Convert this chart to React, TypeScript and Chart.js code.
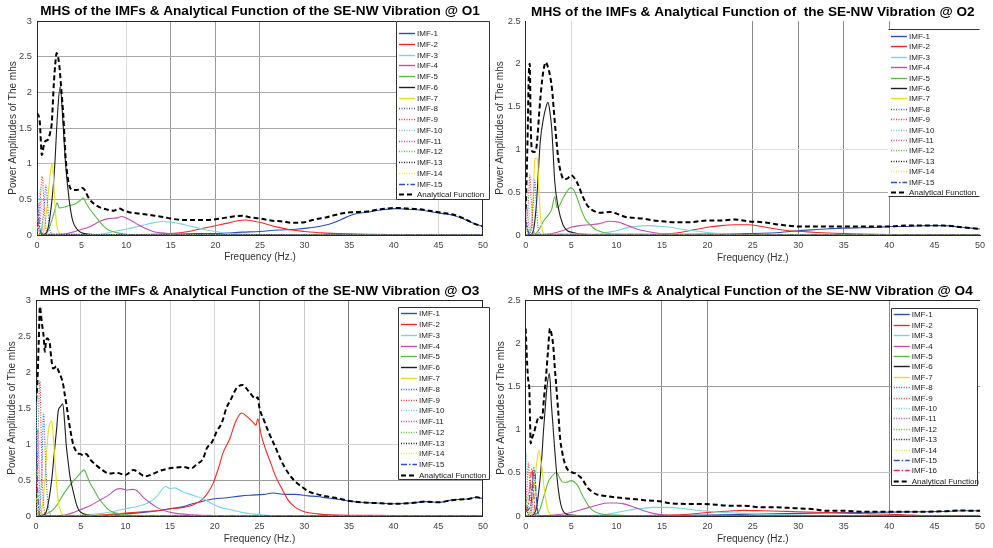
import React, { useEffect, useRef } from 'react';
import { Chart, registerables } from 'chart.js';

Chart.register(...registerables);

type Pt = [number, number];

const FONT = "'Liberation Sans', Arial, Helvetica, sans-serif";

// ---------- text ----------
const PANEL_TITLES = [
  'MHS of the IMFs & Analytical Function of the SE-NW Vibration @ O1',
  'MHS of the IMFs & Analytical Function of  the SE-NW Vibration @ O2',
  'MHS of the IMFs & Analytical Function of the SE-NW Vibration @ O3',
  'MHS of the IMFs & Analytical Function of the SE-NW Vibration @ O4',
];
const X_LABEL = 'Frequency (Hz.)';
const Y_LABEL = 'Power Amplitudes of The mhs';
const X_MIN = 0;
const X_MAX = 50;
const X_STEP = 5;
const Y_STEP = 0.5;
const Y_MAX = [3, 2.5, 3, 2.5];
const LABELS_15 = ['IMF-1', 'IMF-2', 'IMF-3', 'IMF-4', 'IMF-5', 'IMF-6', 'IMF-7', 'IMF-8', 'IMF-9', 'IMF-10', 'IMF-11', 'IMF-12', 'IMF-13', 'IMF-14', 'IMF-15', 'Analytical Function'];
const LABELS_16 = ['IMF-1', 'IMF-2', 'IMF-3', 'IMF-4', 'IMF-5', 'IMF-6', 'IMF-7', 'IMF-8', 'IMF-9', 'IMF-10', 'IMF-11', 'IMF-12', 'IMF-13', 'IMF-14', 'IMF-15', 'IMF-16', 'Analytical Function'];

// ---------- O1 data [frequency, amplitude] ----------
const O1_IMF1: Pt[] = [[0,0],[10,0.003],[15,0.01],[18,0.02],[20,0.02],[23,0.04],[25,0.05],[27,0.07],[29,0.08],[30.5,0.1],[32,0.13],[33.4,0.18],[34.5,0.24],[35.5,0.29],[37,0.32],[38.5,0.35],[40.3,0.37],[41.5,0.36],[42.9,0.35],[44,0.33],[45.5,0.3],[46.5,0.28],[47.7,0.23],[49,0.16],[50,0.12]];
const O1_IMF2: Pt[] = [[0,0],[10,0.003],[13,0.01],[15,0.02],[17,0.05],[18.5,0.09],[20,0.13],[21.5,0.17],[22.5,0.2],[23.3,0.21],[24.5,0.19],[25.5,0.16],[27,0.11],[28.5,0.07],[30,0.05],[32,0.03],[34,0.02],[37,0.01],[40,0.005],[44,0.003],[50,0]];
const O1_IMF3: Pt[] = [[0,0],[5,0.003],[7,0.01],[8,0.03],[9,0.06],[10,0.08],[11,0.11],[12,0.14],[13,0.17],[14,0.19],[15,0.18],[16,0.16],[17,0.13],[18,0.1],[19,0.07],[20,0.05],[21,0.03],[23,0.015],[25,0.005],[28,0.002],[50,0]];
const O1_IMF4: Pt[] = [[0,0],[2,0.003],[3,0.01],[4,0.04],[5,0.08],[6,0.12],[7,0.19],[8,0.23],[9,0.24],[9.5,0.26],[10.3,0.22],[11,0.17],[12,0.1],[13,0.05],[14,0.03],[16,0.01],[20,0.003],[50,0]];
const O1_IMF5: Pt[] = [[0,0],[0.8,0.01],[1.2,0.05],[1.6,0.18],[2,0.35],[2.25,0.45],[2.5,0.38],[3,0.39],[3.5,0.41],[4.2,0.43],[4.8,0.48],[5.2,0.52],[5.5,0.45],[6,0.35],[6.5,0.27],[7,0.19],[7.5,0.12],[8,0.07],[9,0.03],[10,0.01],[12,0.003],[50,0]];
const O1_IMF6: Pt[] = [[0,0],[0.8,0.01],[1.2,0.08],[1.5,0.3],[1.8,0.65],[2,1],[2.3,1.7],[2.6,2.08],[2.9,1.6],[3.2,1],[3.6,0.5],[4,0.2],[4.5,0.08],[5,0.03],[6,0.01],[8,0],[50,0]];
const O1_IMF7: Pt[] = [[0,0],[0.6,0.02],[0.9,0.15],[1.2,0.5],[1.5,0.88],[1.7,1],[1.85,0.8],[2,0.45],[2.2,0.15],[2.5,0.03],[3,0.005],[50,0]];
const O1_IMF8: Pt[] = [[0,0],[0.5,0.05],[0.8,0.4],[1,0.7],[1.15,0.5],[1.4,0.1],[1.8,0.01],[50,0]];
const O1_IMF9: Pt[] = [[0,0],[0.3,0.3],[0.5,0.75],[0.6,0.82],[0.75,0.5],[1,0.1],[1.3,0.01],[50,0]];
const O1_IMF10: Pt[] = [[0,0.05],[0.2,0.45],[0.35,0.65],[0.5,0.4],[0.7,0.08],[1,0.01],[50,0]];
const O1_IMF11: Pt[] = [[0,0.1],[0.15,0.38],[0.25,0.45],[0.4,0.2],[0.6,0.03],[1,0],[50,0]];
const O1_IMF12: Pt[] = [[0,0.15],[0.1,0.28],[0.2,0.2],[0.4,0.04],[0.7,0],[50,0]];
const O1_IMF13: Pt[] = [[0,0.12],[0.08,0.18],[0.2,0.08],[0.4,0.01],[50,0]];
const O1_IMF14: Pt[] = [[0,0.1],[0.1,0.12],[0.25,0.03],[0.5,0],[50,0]];
const O1_IMF15: Pt[] = [[0,0.3],[0.1,0.35],[0.25,0.15],[0.5,0.02],[1,0],[50,0]];
const O1_AF: Pt[] = [[0,1.71],[0.3,1.6],[0.55,1.12],[0.75,1.25],[0.9,1.31],[1.25,1.34],[1.5,1.45],[1.65,1.56],[1.9,2.15],[2.05,2.4],[2.2,2.55],[2.35,2.5],[2.5,2.38],[2.75,2],[2.95,1.68],[3.2,1.1],[3.45,0.8],[3.66,0.68],[4,0.63],[4.4,0.63],[4.8,0.64],[5.1,0.66],[5.4,0.62],[5.7,0.54],[6.1,0.47],[6.6,0.42],[7.2,0.38],[8.07,0.35],[8.6,0.34],[9.2,0.37],[9.8,0.34],[10.3,0.32],[11.4,0.3],[12.1,0.29],[13.2,0.27],[14.3,0.25],[15,0.23],[16.5,0.21],[18.7,0.21],[20,0.22],[21,0.24],[22,0.26],[23.1,0.27],[23.8,0.25],[25,0.23],[26.4,0.2],[27.5,0.19],[28.6,0.17],[30,0.18],[31.2,0.22],[32.5,0.25],[33.4,0.28],[34.5,0.31],[35.5,0.32],[37,0.33],[38.5,0.36],[40.3,0.38],[41.5,0.37],[42.9,0.36],[44,0.34],[45.5,0.31],[46.5,0.29],[47.7,0.24],[49,0.16],[50,0.12]];

// ---------- O2 data ----------
const O2_IMF1: Pt[] = [[0,0],[15,0.003],[20,0.01],[23,0.015],[26,0.02],[28,0.03],[30,0.05],[31.5,0.06],[33,0.07],[35,0.08],[37,0.085],[39,0.09],[40,0.1],[42,0.1],[44,0.11],[46,0.11],[48,0.09],[50,0.07]];
const O2_IMF2: Pt[] = [[0,0],[12,0.003],[15,0.01],[17,0.03],[18.5,0.06],[20,0.09],[21.5,0.11],[23,0.12],[24.5,0.12],[26,0.1],[27.5,0.07],[29,0.05],[30.5,0.04],[32,0.03],[34,0.02],[37,0.01],[40,0.005],[41,0.002],[50,0]];
const O2_IMF3: Pt[] = [[0,0],[6,0.003],[8,0.01],[9,0.03],[10,0.05],[11,0.08],[12,0.1],[13.5,0.11],[15,0.1],[16,0.09],[17,0.07],[18.5,0.05],[20,0.03],[22,0.015],[25,0.005],[50,0]];
const O2_IMF4: Pt[] = [[0,0],[2,0.003],[3,0.02],[4,0.05],[5,0.09],[6,0.11],[7,0.12],[8,0.13],[9.2,0.16],[10.2,0.15],[11,0.12],[12,0.08],[13,0.05],[14,0.03],[15,0.015],[17,0.005],[50,0]];
const O2_IMF5: Pt[] = [[0,0],[1,0.01],[1.5,0.07],[1.95,0.16],[2.4,0.22],[2.86,0.3],[3.2,0.45],[3.45,0.32],[3.8,0.36],[4.1,0.43],[4.5,0.5],[4.9,0.55],[5.2,0.54],[5.6,0.45],[5.9,0.36],[6.2,0.27],[6.6,0.18],[7.1,0.12],[7.6,0.07],[8.2,0.04],[9,0.02],[10,0.01],[50,0]];
const O2_IMF6: Pt[] = [[0,0],[0.6,0.005],[0.9,0.08],[1.2,0.39],[1.4,0.75],[1.6,1.09],[1.95,1.36],[2.25,1.5],[2.45,1.55],[2.65,1.45],[2.86,1.25],[3.05,0.9],[3.2,0.62],[3.6,0.31],[4.1,0.12],[4.6,0.05],[5.2,0.03],[6,0.01],[8,0.002],[50,0]];
const O2_IMF7: Pt[] = [[0,0],[0.5,0.05],[0.7,0.2],[0.85,0.5],[1,0.88],[1.15,0.9],[1.3,0.88],[1.45,0.55],[1.6,0.25],[1.8,0.08],[2.1,0.01],[50,0]];
const O2_IMF8: Pt[] = [[0,0],[0.6,0.05],[0.85,0.4],[1,0.64],[1.15,0.4],[1.4,0.05],[1.8,0],[50,0]];
const O2_IMF9: Pt[] = [[0,0.05],[0.3,0.4],[0.45,0.7],[0.6,0.45],[0.8,0.1],[1.1,0.01],[50,0]];
const O2_IMF10: Pt[] = [[0,0.2],[0.15,0.45],[0.25,0.52],[0.4,0.25],[0.6,0.05],[0.9,0],[50,0]];
const O2_IMF11: Pt[] = [[0,0.1],[0.1,0.3],[0.2,0.28],[0.35,0.1],[0.6,0.01],[50,0]];
const O2_IMF12: Pt[] = [[0,0.08],[0.1,0.15],[0.25,0.05],[0.5,0],[50,0]];
const O2_IMF13: Pt[] = [[0,0.05],[0.08,0.12],[0.2,0.03],[0.4,0],[50,0]];
const O2_IMF14: Pt[] = [[0,0.05],[0.1,0.08],[0.25,0.02],[0.5,0],[50,0]];
const O2_IMF15: Pt[] = [[0,0.1],[0.1,0.15],[0.25,0.05],[0.5,0],[50,0]];
const O2_AF: Pt[] = [[0,0.3],[0.2,1.1],[0.35,1.9],[0.45,2],[0.55,1.3],[0.7,0.98],[0.9,0.97],[1.1,0.98],[1.3,1.15],[1.5,1.45],[1.8,1.8],[2,1.95],[2.2,2.02],[2.45,1.96],[2.7,1.85],[2.9,1.7],[3.1,1.45],[3.3,1.2],[3.6,0.88],[3.9,0.72],[4.2,0.65],[4.6,0.66],[5,0.7],[5.4,0.66],[5.8,0.58],[6.2,0.47],[6.7,0.36],[7.2,0.3],[8.2,0.26],[9.3,0.27],[10,0.25],[11,0.21],[12,0.2],[13,0.19],[14,0.17],[15,0.16],[16.5,0.15],[18,0.15],[20,0.17],[21.5,0.17],[23,0.18],[24.5,0.16],[26,0.15],[28,0.12],[30,0.1],[32,0.1],[34,0.1],[37,0.1],[40,0.1],[42,0.11],[44,0.11],[46,0.11],[48,0.09],[50,0.07]];

// ---------- O3 data ----------
const O3_IMF1: Pt[] = [[0,0],[5,0.005],[8,0.01],[10,0.03],[12,0.05],[14,0.08],[15,0.1],[16.5,0.13],[17.5,0.17],[18.5,0.2],[20,0.24],[21,0.25],[23,0.28],[24.2,0.29],[25.5,0.3],[26.5,0.32],[27.9,0.3],[29,0.3],[30.5,0.28],[31.5,0.27],[32.6,0.25],[34,0.23],[35,0.21],[36.3,0.19],[38,0.18],[40,0.17],[42,0.18],[43.6,0.2],[45,0.19],[46.5,0.22],[47.3,0.23],[48.5,0.24],[49.3,0.26],[50,0.24]];
const O3_IMF2: Pt[] = [[0,0],[5,0.005],[8,0.02],[10,0.04],[12,0.06],[14,0.08],[15,0.1],[16.5,0.12],[17.5,0.15],[18.5,0.22],[19.1,0.3],[19.8,0.45],[20.5,0.7],[20.9,0.87],[21.7,1.08],[22.3,1.3],[23,1.43],[23.6,1.38],[24.3,1.3],[24.6,1.26],[24.8,1.35],[25.2,1.12],[25.7,0.92],[26.3,0.72],[26.8,0.55],[27.5,0.38],[28.2,0.22],[29,0.12],[30,0.06],[31.5,0.03],[33,0.015],[36,0.01],[40,0.005],[43,0.003],[50,0]];
const O3_IMF3: Pt[] = [[0,0],[3,0.005],[5,0.01],[7,0.03],[8.5,0.06],[10,0.1],[11.5,0.14],[12.5,0.18],[13.5,0.27],[14.5,0.41],[15,0.38],[15.5,0.39],[16.5,0.33],[17.5,0.29],[18.7,0.24],[19.7,0.17],[20.6,0.12],[22,0.08],[23,0.05],[24.2,0.03],[26,0.01],[28,0.005],[50,0]];
const O3_IMF4: Pt[] = [[0,0],[2,0.005],[3,0.01],[4,0.04],[5,0.09],[6,0.14],[7,0.21],[8,0.28],[9,0.37],[9.5,0.38],[10.1,0.36],[10.8,0.37],[11.3,0.35],[12,0.26],[12.8,0.18],[13.5,0.12],[14.5,0.07],[15.5,0.04],[17,0.02],[19,0.01],[22,0.003],[50,0]];
const O3_IMF5: Pt[] = [[0,0],[1,0.02],[1.5,0.05],[2,0.1],[2.5,0.18],[3,0.29],[3.5,0.38],[4,0.46],[4.5,0.53],[5,0.6],[5.38,0.64],[5.7,0.56],[6,0.47],[6.5,0.36],[7,0.25],[7.5,0.17],[8,0.1],[8.5,0.06],[9,0.04],[10,0.015],[12,0.005],[50,0]];
const O3_IMF6: Pt[] = [[0,0],[0.8,0.01],[1.2,0.08],[1.5,0.27],[1.8,0.55],[2,0.82],[2.3,1.2],[2.5,1.47],[2.75,1.52],[3,1.56],[3.2,1.3],[3.4,0.96],[3.6,0.75],[3.8,0.55],[4.05,0.4],[4.3,0.27],[4.55,0.15],[4.8,0.08],[5.3,0.03],[6,0.01],[8,0.003],[50,0]];
const O3_IMF7: Pt[] = [[0,0],[0.5,0.03],[0.8,0.2],[1,0.5],[1.2,0.9],[1.4,1.2],[1.6,1.3],[1.75,1.32],[1.9,1.15],[2.1,0.8],[2.3,0.45],[2.5,0.2],[2.8,0.05],[3.2,0.01],[50,0]];
const O3_IMF8: Pt[] = [[0,0],[0.4,0.1],[0.65,0.6],[0.85,1.43],[1,1],[1.2,0.4],[1.5,0.05],[2,0],[50,0]];
const O3_IMF9: Pt[] = [[0,0.2],[0.2,0.9],[0.35,1.7],[0.45,1.88],[0.55,1.3],[0.7,0.5],[0.9,0.1],[1.2,0],[50,0]];
const O3_IMF10: Pt[] = [[0,0.8],[0.08,1.5],[0.15,1.93],[0.25,1.5],[0.4,0.6],[0.6,0.1],[0.9,0],[50,0]];
const O3_IMF11: Pt[] = [[0,0.3],[0.1,1],[0.2,1.2],[0.3,0.7],[0.5,0.1],[0.8,0],[50,0]];
const O3_IMF12: Pt[] = [[0,0.5],[0.07,0.7],[0.2,0.3],[0.4,0.03],[0.6,0],[50,0]];
const O3_IMF13: Pt[] = [[0,0.2],[0.05,0.3],[0.15,0.1],[0.3,0],[50,0]];
const O3_IMF14: Pt[] = [[0,0.2],[0.05,0.25],[0.15,0.05],[0.3,0],[50,0]];
const O3_IMF15: Pt[] = [[0,0.8],[0.05,1],[0.15,0.5],[0.3,0.1],[0.5,0],[50,0]];
const O3_AF: Pt[] = [[0,1.6],[0.15,1.84],[0.3,2.4],[0.44,2.91],[0.55,2.8],[0.66,2.68],[0.85,2.5],[0.99,2.28],[1.1,2.4],[1.24,2.47],[1.4,2.45],[1.54,2.4],[1.7,2.2],[1.9,2.05],[2.1,2.06],[2.27,2.08],[2.5,2.02],[2.8,1.93],[3,1.85],[3.2,1.7],[3.4,1.55],[3.6,1.38],[3.9,1.15],[4.15,1],[4.4,0.92],[4.7,0.87],[5,0.86],[5.3,0.84],[5.6,0.86],[6.1,0.78],[6.7,0.71],[7.4,0.64],[8.2,0.59],[9,0.6],[10,0.57],[10.9,0.64],[11.5,0.6],[12.2,0.55],[13,0.58],[13.7,0.62],[14.5,0.65],[15.4,0.67],[16.5,0.68],[17.3,0.66],[18,0.72],[18.7,0.8],[19.1,0.94],[19.7,1.03],[20.2,1.17],[20.8,1.3],[21.3,1.5],[21.8,1.62],[22.4,1.77],[23.1,1.82],[23.8,1.73],[24.6,1.63],[24.8,1.65],[25,1.5],[25.5,1.33],[26,1.17],[26.8,0.95],[27.5,0.75],[28.2,0.6],[29,0.48],[29.8,0.4],[30.5,0.34],[31.5,0.3],[32.6,0.27],[34,0.24],[35,0.21],[36.3,0.19],[38,0.18],[40,0.17],[42,0.18],[43.6,0.2],[45,0.19],[46.5,0.22],[47.3,0.23],[48.5,0.24],[49.3,0.26],[50,0.24]];

// ---------- O4 data ----------
const O4_IMF1: Pt[] = [[0,0],[10,0.003],[15,0.005],[20,0.01],[25,0.02],[30,0.03],[35,0.04],[40,0.045],[44,0.05],[46,0.052],[48,0.06],[50,0.06]];
const O4_IMF2: Pt[] = [[0,0],[12,0.003],[15,0.01],[18,0.02],[20,0.04],[22,0.055],[24,0.065],[26,0.06],[28,0.055],[30,0.05],[33,0.04],[36,0.03],[38,0.025],[40,0.02],[42,0.012],[44,0.005],[50,0]];
const O4_IMF3: Pt[] = [[0,0],[6,0.003],[8,0.01],[9,0.02],[10,0.04],[11,0.06],[12,0.08],[13,0.09],[14,0.1],[15.5,0.1],[17,0.09],[18.5,0.07],[20,0.055],[22,0.04],[24,0.03],[26,0.02],[28,0.015],[30,0.01],[33,0.005],[50,0]];
const O4_IMF4: Pt[] = [[0,0],[2,0.003],[3,0.01],[4,0.02],[5,0.04],[6,0.07],[7,0.1],[8,0.13],[9,0.15],[10,0.15],[10.8,0.14],[12,0.1],[13,0.06],[14,0.03],[15,0.015],[17,0.005],[50,0]];
const O4_IMF5: Pt[] = [[0,0],[1,0.01],[1.5,0.06],[1.94,0.21],[2.2,0.3],[2.5,0.4],[2.9,0.46],[3.3,0.5],[3.5,0.49],[3.8,0.43],[4.1,0.39],[4.5,0.39],[5,0.41],[5.3,0.4],[5.8,0.34],[6.1,0.27],[6.5,0.19],[6.9,0.12],[7.3,0.07],[7.8,0.04],[8.5,0.02],[10,0.01],[12,0.003],[50,0]];
const O4_IMF6: Pt[] = [[0,0],[0.8,0.01],[1,0.04],[1.2,0.1],[1.4,0.25],[1.6,0.45],[1.8,0.72],[1.94,0.96],[2.15,1.25],[2.35,1.5],[2.6,1.65],[2.7,1.55],[2.8,1.34],[3,1.05],[3.2,0.76],[3.4,0.5],[3.6,0.3],[3.85,0.14],[4.1,0.06],[4.5,0.02],[5,0.01],[7,0.002],[50,0]];
const O4_IMF7: Pt[] = [[0,0],[0.4,0.01],[0.6,0.06],[0.8,0.2],[1,0.4],[1.2,0.6],[1.45,0.76],[1.65,0.65],[1.8,0.55],[2,0.35],[2.2,0.2],[2.4,0.08],[2.6,0.03],[3,0.005],[50,0]];
const O4_IMF8: Pt[] = [[0,0],[0.5,0.05],[0.75,0.35],[0.9,0.57],[1.05,0.35],[1.3,0.05],[1.6,0],[50,0]];
const O4_IMF9: Pt[] = [[0,0.1],[0.2,0.45],[0.3,0.62],[0.45,0.35],[0.6,0.08],[0.9,0],[50,0]];
const O4_IMF10: Pt[] = [[0,0.4],[0.08,0.72],[0.2,0.4],[0.35,0.08],[0.6,0],[50,0]];
const O4_IMF11: Pt[] = [[0,0.15],[0.4,0.3],[0.55,0.4],[0.7,0.2],[0.9,0.03],[1.2,0],[50,0]];
const O4_IMF12: Pt[] = [[0,0.1],[0.1,0.2],[0.25,0.05],[0.5,0],[50,0]];
const O4_IMF13: Pt[] = [[0,0.08],[0.1,0.12],[0.25,0.02],[0.5,0],[50,0]];
const O4_IMF14: Pt[] = [[0,0.05],[0.1,0.08],[0.25,0.01],[0.5,0],[50,0]];
const O4_IMF15: Pt[] = [[0,0.05],[0.6,0.15],[0.85,0.5],[1,0.52],[1.15,0.25],[1.4,0.02],[1.7,0],[50,0]];
const O4_IMF16: Pt[] = [[0,0.05],[0.4,0.2],[0.6,0.5],[0.7,0.55],[0.85,0.3],[1.1,0.03],[1.4,0],[50,0]];
const O4_AF: Pt[] = [[0,2.17],[0.1,1.9],[0.25,1.6],[0.4,1.46],[0.48,1.1],[0.55,0.84],[0.7,0.9],[0.9,0.96],[1.2,1.08],[1.45,1.15],[1.65,1.14],[1.8,1.13],[2,1.35],[2.2,1.57],[2.45,1.9],[2.67,2.17],[2.85,2.1],[3.04,1.96],[3.2,1.72],[3.4,1.46],[3.6,1.18],[3.77,0.92],[4,0.75],[4.3,0.61],[4.6,0.54],[4.87,0.52],[5.2,0.5],[5.6,0.49],[5.9,0.46],[6.2,0.43],[6.5,0.38],[6.7,0.34],[7.2,0.29],[7.8,0.25],[8.9,0.23],[9.6,0.22],[10.4,0.21],[11.5,0.2],[12.5,0.19],[13.3,0.18],[14.8,0.17],[15.7,0.15],[17.5,0.14],[19.4,0.14],[21,0.13],[22.3,0.12],[24,0.12],[25.9,0.1],[27.5,0.1],[29.6,0.09],[31.5,0.08],[33.3,0.06],[35,0.06],[36.9,0.05],[40,0.05],[42,0.05],[44.2,0.05],[46,0.055],[47.9,0.065],[49,0.06],[50,0.06]];

// ---------- styles ----------
const IMF_COLORS = ['#2c4fb5', '#f02828', '#7dd3df', '#c24db3', '#5bb946', '#1e1e1e', '#e8df1a', '#3a5fc0', '#f03535', '#6fd0dc', '#c04aaf', '#5cbd42', '#202020', '#eee23a', '#2c4fb5', '#ee2a2a'];
const DOT = [1, 1.5];
const DASHDOT = [6, 2, 1.5, 2];
const IMF_DASHES: number[][] = [[], [], [], [], [], [], [], DOT, DOT, DOT, DOT, DOT, DOT, DOT, DASHDOT, DASHDOT];

type PanelCfg = {
  left: number; top: number; width: number; height: number;
  title: string; yMax: number; series: Pt[][]; labels: string[];
  yAxisWidth: number; xAxisHeight: number; padRight: number;
  titlePadTop: number; titlePadBottom: number;
  xTitlePadBottom: number; yTitlePad: number;
  xGrid: Record<string, string>; yGrid: Record<string, string>;
  legend: { left: number; right: number; top: number; bottom: number; firstY: number; spacing: number; sides: 'all' | 'tb' };
  frameTop: boolean; frameRight: boolean;
};

const PANELS: PanelCfg[] = [
  {
    left: 0, top: 0, width: 493, height: 270, title: PANEL_TITLES[0], yMax: Y_MAX[0],
    series: [O1_IMF1, O1_IMF2, O1_IMF3, O1_IMF4, O1_IMF5, O1_IMF6, O1_IMF7, O1_IMF8, O1_IMF9, O1_IMF10, O1_IMF11, O1_IMF12, O1_IMF13, O1_IMF14, O1_IMF15, O1_AF],
    labels: LABELS_15,
    yAxisWidth: 37, xAxisHeight: 35, padRight: 2, titlePadTop: 3.5, titlePadBottom: 1.18,
    xTitlePadBottom: 6.3, yTitlePad: 7.3,
    xGrid: { '10': '#dedede', '15': '#9a9a9a', '20': '#9a9a9a', '25': '#9a9a9a', '45': '#d4d4d4' },
    yGrid: { '0.5': '#a8a8a8', '1': '#b8b8b8', '1.5': '#a8a8a8', '2': '#a8a8a8', '2.5': '#a8a8a8' },
    legend: { left: 396, right: 490, top: 21, bottom: 200, firstY: 33, spacing: 10.75, sides: 'all' },
    frameTop: true, frameRight: true,
  },
  {
    left: 493, top: 0, width: 500, height: 270, title: PANEL_TITLES[1], yMax: Y_MAX[1],
    series: [O2_IMF1, O2_IMF2, O2_IMF3, O2_IMF4, O2_IMF5, O2_IMF6, O2_IMF7, O2_IMF8, O2_IMF9, O2_IMF10, O2_IMF11, O2_IMF12, O2_IMF13, O2_IMF14, O2_IMF15, O2_AF],
    labels: LABELS_15,
    yAxisWidth: 32.7, xAxisHeight: 35, padRight: 13, titlePadTop: 3.8, titlePadBottom: 0.88,
    xTitlePadBottom: 5.7, yTitlePad: 1,
    xGrid: { '5': '#d8d8d8', '25': '#8a8a8a', '30': '#8a8a8a', '35': '#8a8a8a', '40': '#8a8a8a' },
    yGrid: { '0.5': '#a8a8a8', '1': '#e2e2e2' },
    legend: { left: 395, right: 487, top: 29, bottom: 197, firstY: 36, spacing: 10.4, sides: 'tb' },
    frameTop: false, frameRight: false,
  },
  {
    left: 0, top: 273, width: 493, height: 275, title: PANEL_TITLES[2], yMax: Y_MAX[2],
    series: [O3_IMF1, O3_IMF2, O3_IMF3, O3_IMF4, O3_IMF5, O3_IMF6, O3_IMF7, O3_IMF8, O3_IMF9, O3_IMF10, O3_IMF11, O3_IMF12, O3_IMF13, O3_IMF14, O3_IMF15, O3_AF],
    labels: LABELS_15,
    yAxisWidth: 36, xAxisHeight: 32, padRight: 1.3, titlePadTop: 10, titlePadBottom: 0.68,
    xTitlePadBottom: 3, yTitlePad: 6.7,
    xGrid: { '5': '#c8c8c8', '10': '#7a7a7a', '15': '#d2d2d2', '20': '#d2d2d2', '25': '#8a8a8a', '30': '#c8c8c8', '35': '#7a7a7a' },
    yGrid: { '0.5': '#9a9a9a', '1': '#d2d2d2' },
    legend: { left: 398, right: 490, top: 34, bottom: 207, firstY: 40.3, spacing: 10.78, sides: 'all' },
    frameTop: true, frameRight: true,
  },
  {
    left: 493, top: 273, width: 500, height: 275, title: PANEL_TITLES[3], yMax: Y_MAX[3],
    series: [O4_IMF1, O4_IMF2, O4_IMF3, O4_IMF4, O4_IMF5, O4_IMF6, O4_IMF7, O4_IMF8, O4_IMF9, O4_IMF10, O4_IMF11, O4_IMF12, O4_IMF13, O4_IMF14, O4_IMF15, O4_IMF16, O4_AF],
    labels: LABELS_16,
    yAxisWidth: 32.7, xAxisHeight: 32, padRight: 13, titlePadTop: 10.4, titlePadBottom: 0.28,
    xTitlePadBottom: 3, yTitlePad: 2.7,
    xGrid: { '5': '#e2e2e2', '15': '#8a8a8a', '20': '#8a8a8a', '40': '#8a8a8a' },
    yGrid: { '0.5': '#c4c4c4', '1.5': '#9a9a9a' },
    legend: { left: 397.7, right: 485, top: 35, bottom: 213, firstY: 41.3, spacing: 10.4, sides: 'all' },
    frameTop: true, frameRight: false,
  },
];

const TRANSPARENT = 'rgba(0,0,0,0)';
const gridColor = (map: Record<string, string>) => (ctx: any) => {
  const v = ctx && ctx.tick ? ctx.tick.value : undefined;
  if (v === undefined) return TRANSPARENT;
  return map[String(v)] || TRANSPARENT;
};

const matLegend = {
  id: 'matLegend',
  afterDraw(chart: any, _args: any, opts: any) {
    const ctx: CanvasRenderingContext2D = chart.ctx;
    const ca = chart.chartArea;
    ctx.save();
    ctx.lineWidth = 1;
    ctx.strokeStyle = '#262626';
    ctx.setLineDash([]);
    if (opts.frameTop) {
      ctx.beginPath();
      ctx.moveTo(ca.left, Math.round(ca.top) + 0.5);
      ctx.lineTo(ca.right, Math.round(ca.top) + 0.5);
      ctx.stroke();
    }
    if (opts.frameRight) {
      ctx.beginPath();
      ctx.moveTo(Math.round(ca.right) - 0.5, ca.top);
      ctx.lineTo(Math.round(ca.right) - 0.5, ca.bottom);
      ctx.stroke();
    }
    const L = opts.box;
    if (L) {
      ctx.fillStyle = '#ffffff';
      ctx.fillRect(L.left, L.top, L.right - L.left, L.bottom - L.top);
      ctx.strokeStyle = '#333333';
      const l = Math.round(L.left) + 0.5, r = Math.round(L.right) - 0.5;
      const t = Math.round(L.top) + 0.5, b = Math.round(L.bottom) - 0.5;
      ctx.beginPath();
      if (L.sides === 'all') {
        ctx.rect(l, t, r - l, b - t);
      } else {
        ctx.moveTo(l, t); ctx.lineTo(r, t);
        ctx.moveTo(l, b); ctx.lineTo(r, b);
      }
      ctx.stroke();
      ctx.font = `8px ${FONT}`;
      ctx.textBaseline = 'middle';
      ctx.textAlign = 'left';
      chart.data.datasets.forEach((ds: any, i: number) => {
        const y = Math.round(L.firstY + i * L.spacing) + 0.5;
        ctx.beginPath();
        ctx.setLineDash(ds.borderDash || []);
        ctx.strokeStyle = ds.borderColor;
        ctx.lineWidth = ds.borderWidth >= 2 ? 2 : 1.4;
        ctx.moveTo(L.left + 3, y);
        ctx.lineTo(L.left + 19, y);
        ctx.stroke();
        ctx.setLineDash([]);
        ctx.fillStyle = '#222222';
        ctx.fillText(ds.label, L.left + 21, y);
      });
    }
    ctx.restore();
  },
};

function Panel({ cfg }: { cfg: PanelCfg }) {
  const ref = useRef<HTMLCanvasElement | null>(null);
  useEffect(() => {
    if (!ref.current) return;
    const n = cfg.series.length;
    const datasets = cfg.series.map((pts, i) => {
      const isAF = i === n - 1;
      return {
        label: cfg.labels[i],
        data: pts.map(([x, y]) => ({ x, y })),
        borderColor: isAF ? '#000000' : IMF_COLORS[i],
        borderWidth: isAF ? 2 : 1.1,
        borderDash: isAF ? [5, 3] : IMF_DASHES[i],
        pointRadius: 0,
        pointHoverRadius: 0,
        fill: false,
        cubicInterpolationMode: 'monotone' as const,
        order: n - i,
      };
    });
    const chart = new Chart(ref.current, {
      type: 'line',
      data: { datasets },
      options: {
        responsive: false,
        animation: false,
        devicePixelRatio: 1,
        layout: { padding: { left: 0, right: cfg.padRight, top: 0, bottom: 0 } },
        plugins: {
          legend: { display: false },
          tooltip: { enabled: false },
          title: {
            display: true,
            text: cfg.title,
            fullSize: false,
            color: '#000000',
            font: { family: FONT, size: 13.6, weight: 'bold' },
            padding: { top: cfg.titlePadTop, bottom: cfg.titlePadBottom },
          },
          matLegend: {
            box: cfg.legend,
            frameTop: cfg.frameTop,
            frameRight: cfg.frameRight,
          },
        } as any,
        scales: {
          x: {
            type: 'linear',
            min: X_MIN,
            max: X_MAX,
            afterFit: (s: any) => { s.height = cfg.xAxisHeight; },
            ticks: { stepSize: X_STEP, autoSkip: false, maxRotation: 0, padding: 5, color: '#444444', font: { family: FONT, size: 9 }, callback: (v: any) => String(v) },
            grid: { color: gridColor(cfg.xGrid), drawTicks: false, lineWidth: 1 },
            border: { display: true, color: '#262626', width: 1 },
            title: { display: true, text: X_LABEL, color: '#333333', font: { family: FONT, size: 10 }, padding: { top: 0, bottom: cfg.xTitlePadBottom } },
          },
          y: {
            type: 'linear',
            min: 0,
            max: cfg.yMax,
            afterFit: (s: any) => { s.width = cfg.yAxisWidth; },
            ticks: { stepSize: Y_STEP, padding: 5, color: '#444444', font: { family: FONT, size: 9.3 }, callback: (v: any) => String(Math.round(Number(v) * 100) / 100) },
            grid: { color: gridColor(cfg.yGrid), drawTicks: false, lineWidth: 1 },
            border: { display: true, color: '#262626', width: 1 },
            title: { display: true, text: Y_LABEL, color: '#333333', font: { family: FONT, size: 10 }, padding: { top: cfg.yTitlePad, bottom: 0 } },
          },
        },
      } as any,
      plugins: [matLegend as any],
    });
    return () => chart.destroy();
  }, [cfg]);
  return (
    <canvas
      ref={ref}
      width={cfg.width}
      height={cfg.height}
      style={{ position: 'absolute', left: cfg.left, top: cfg.top, width: cfg.width, height: cfg.height, display: 'block' }}
    />
  );
}

export default function App() {
  return (
    <div style={{ position: 'fixed', left: 0, top: 0, width: 993, height: 548, background: '#ffffff', overflow: 'hidden' }}>
      {PANELS.map((p, i) => (
        <Panel key={i} cfg={p} />
      ))}
    </div>
  );
}
